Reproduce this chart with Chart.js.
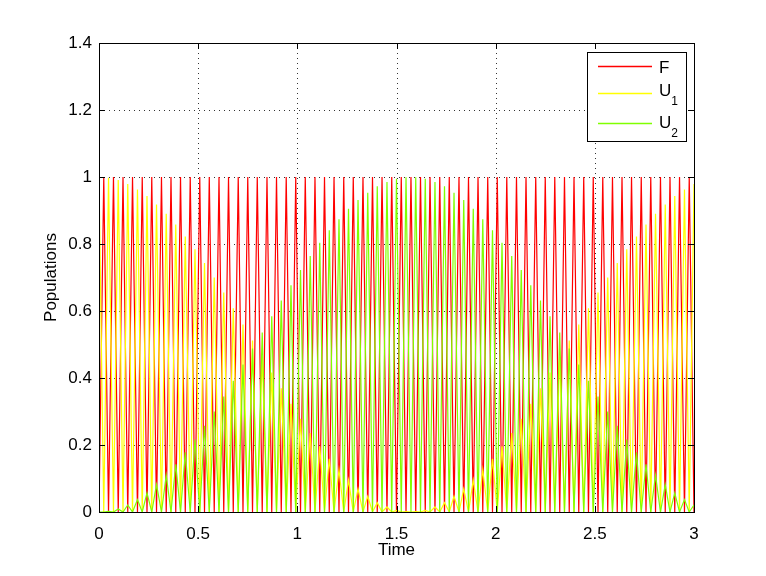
<!DOCTYPE html>
<html>
<head>
<meta charset="utf-8">
<title>Populations</title>
<script src="https://cdn.jsdelivr.net/npm/chart.js@4.4.0/dist/chart.umd.min.js"></script>
<style>
  html, body { margin: 0; padding: 0; background: #fff; }
  #wrap { width: 766px; height: 576px; }
</style>
</head>
<body>
<div id="wrap"><canvas id="popChart" width="766" height="576"></canvas></div>
<script>
// sample times (half periods of the fast oscillation)
const timeValues = [
  0, 0.024, 0.048, 0.073, 0.097, 0.121, 0.145, 0.169, 0.194, 0.218,
  0.242, 0.266, 0.290, 0.315, 0.339, 0.363, 0.387, 0.411, 0.435, 0.460,
  0.484, 0.508, 0.532, 0.556, 0.581, 0.605, 0.629, 0.653, 0.677, 0.702,
  0.726, 0.750, 0.774, 0.798, 0.823, 0.847, 0.871, 0.895, 0.919, 0.944,
  0.968, 0.992, 1.016, 1.040, 1.065, 1.089, 1.113, 1.137, 1.161, 1.185,
  1.210, 1.234, 1.258, 1.282, 1.306, 1.331, 1.355, 1.379, 1.403, 1.427,
  1.452, 1.476, 1.500, 1.524, 1.548, 1.573, 1.597, 1.621, 1.645, 1.669,
  1.694, 1.718, 1.742, 1.766, 1.790, 1.815, 1.839, 1.863, 1.887, 1.911,
  1.935, 1.960, 1.984, 2.008, 2.032, 2.056, 2.081, 2.105, 2.129, 2.153,
  2.177, 2.202, 2.226, 2.250, 2.274, 2.298, 2.323, 2.347, 2.371, 2.395,
  2.419, 2.444, 2.468, 2.492, 2.516, 2.540, 2.565, 2.589, 2.613, 2.637,
  2.661, 2.685, 2.710, 2.734, 2.758, 2.782, 2.806, 2.831, 2.855, 2.879,
  2.903, 2.927, 2.952, 2.976, 3.000
];

const fValues = [
  0, 1, 0, 1, 0, 1, 0, 1, 0, 1,
  0, 1, 0, 1, 0, 1, 0, 1, 0, 1,
  0, 1, 0, 1, 0, 1, 0, 1, 0, 1,
  0, 1, 0, 1, 0, 1, 0, 1, 0, 1,
  0, 1, 0, 1, 0, 1, 0, 1, 0, 1,
  0, 1, 0, 1, 0, 1, 0, 1, 0, 1,
  0, 1, 0, 1, 0, 1, 0, 1, 0, 1,
  0, 1, 0, 1, 0, 1, 0, 1, 0, 1,
  0, 1, 0, 1, 0, 1, 0, 1, 0, 1,
  0, 1, 0, 1, 0, 1, 0, 1, 0, 1,
  0, 1, 0, 1, 0, 1, 0, 1, 0, 1,
  0, 1, 0, 1, 0, 1, 0, 1, 0, 1,
  0, 1, 0, 1, 0
];

const u1Values = [
  1.000, 0, 0.998, 0, 0.991, 0, 0.979, 0, 0.963, 0,
  0.943, 0, 0.918, 0, 0.890, 0, 0.858, 0, 0.822, 0,
  0.784, 0, 0.743, 0, 0.700, 0, 0.655, 0, 0.608, 0,
  0.560, 0, 0.512, 0, 0.464, 0, 0.416, 0, 0.369, 0,
  0.323, 0, 0.278, 0, 0.236, 0, 0.196, 0, 0.159, 0,
  0.126, 0, 0.095, 0, 0.069, 0, 0.047, 0, 0.028, 0,
  0.015, 0, 0.005, 0, 0.001, 0, 0.001, 0, 0.005, 0,
  0.015, 0, 0.028, 0, 0.047, 0, 0.069, 0, 0.095, 0,
  0.126, 0, 0.159, 0, 0.196, 0, 0.236, 0, 0.278, 0,
  0.323, 0, 0.369, 0, 0.416, 0, 0.464, 0, 0.512, 0,
  0.560, 0, 0.608, 0, 0.655, 0, 0.700, 0, 0.743, 0,
  0.784, 0, 0.822, 0, 0.858, 0, 0.890, 0, 0.918, 0,
  0.943, 0, 0.963, 0, 0.979
];

const u2Values = [
  0.000, 0, 0.002, 0, 0.009, 0, 0.021, 0, 0.037, 0,
  0.057, 0, 0.082, 0, 0.110, 0, 0.142, 0, 0.178, 0,
  0.216, 0, 0.257, 0, 0.300, 0, 0.345, 0, 0.392, 0,
  0.440, 0, 0.488, 0, 0.536, 0, 0.584, 0, 0.631, 0,
  0.677, 0, 0.722, 0, 0.764, 0, 0.804, 0, 0.841, 0,
  0.874, 0, 0.905, 0, 0.931, 0, 0.953, 0, 0.972, 0,
  0.985, 0, 0.995, 0, 0.999, 0, 0.999, 0, 0.995, 0,
  0.985, 0, 0.972, 0, 0.953, 0, 0.931, 0, 0.905, 0,
  0.874, 0, 0.841, 0, 0.804, 0, 0.764, 0, 0.722, 0,
  0.677, 0, 0.631, 0, 0.584, 0, 0.536, 0, 0.488, 0,
  0.440, 0, 0.392, 0, 0.345, 0, 0.300, 0, 0.257, 0,
  0.216, 0, 0.178, 0, 0.142, 0, 0.110, 0, 0.082, 0,
  0.057, 0, 0.037, 0, 0.021
];

const xTickValues = [0, 0.5, 1, 1.5, 2, 2.5, 3];
const xTickLabels = ['0', '0.5', '1', '1.5', '2', '2.5', '3'];
const yTickValues = [0, 0.2, 0.4, 0.6, 0.8, 1, 1.2, 1.4];
const yTickLabels = ['0', '0.2', '0.4', '0.6', '0.8', '1', '1.2', '1.4'];

const FONT = "'Liberation Sans', Arial, Helvetica, sans-serif";
const COLORS = { F: '#ff0000', U1: '#ffff00', U2: '#80ff00' };

const toPoints = vals => timeValues.map((t, i) => ({ x: t, y: vals[i] }));

// dotted grid under the data
const gridPlugin = {
  id: 'matlabGrid',
  beforeDatasetsDraw(chart) {
    const { ctx, chartArea: a, scales } = chart;
    ctx.save();
    ctx.strokeStyle = 'rgba(0,0,0,0.8)';
    ctx.lineWidth = 1;
    ctx.setLineDash([1, 4]);
    xTickValues.forEach(v => {
      const px = Math.round(scales.x.getPixelForValue(v)) + 0.5;
      ctx.beginPath(); ctx.moveTo(px, a.top); ctx.lineTo(px, a.bottom); ctx.stroke();
    });
    yTickValues.forEach(v => {
      const py = Math.round(scales.y.getPixelForValue(v)) + 0.5;
      ctx.beginPath(); ctx.moveTo(a.left, py); ctx.lineTo(a.right, py); ctx.stroke();
    });
    ctx.restore();
  }
};

// box, inner ticks, axis titles and legend
const framePlugin = {
  id: 'matlabFrame',
  afterDraw(chart) {
    const { ctx, chartArea: a, scales } = chart;
    ctx.save();
    ctx.strokeStyle = '#000';
    ctx.lineWidth = 1;
    ctx.strokeRect(a.left + 0.5, a.top + 0.5, a.right - a.left, a.bottom - a.top);

    const tl = 6;
    ctx.beginPath();
    xTickValues.forEach(v => {
      const px = Math.round(scales.x.getPixelForValue(v)) + 0.5;
      ctx.moveTo(px, a.bottom); ctx.lineTo(px, a.bottom - tl);
      ctx.moveTo(px, a.top); ctx.lineTo(px, a.top + tl);
    });
    yTickValues.forEach(v => {
      const py = Math.round(scales.y.getPixelForValue(v)) + 0.5;
      ctx.moveTo(a.left, py); ctx.lineTo(a.left + tl, py);
      ctx.moveTo(a.right, py); ctx.lineTo(a.right - tl, py);
    });
    ctx.stroke();

    // axis titles
    ctx.fillStyle = '#000';
    ctx.font = '17px ' + FONT;
    ctx.textAlign = 'center';
    ctx.textBaseline = 'middle';
    ctx.fillText('Time', (a.left + a.right) / 2, 550);
    ctx.save();
    ctx.translate(51, (a.top + a.bottom) / 2);
    ctx.rotate(-Math.PI / 2);
    ctx.fillText('Populations', 0, 0);
    ctx.restore();

    // legend
    const box = { x: 587.5, y: 52.5, w: 99, h: 89 };
    ctx.fillStyle = '#fff';
    ctx.fillRect(box.x, box.y, box.w, box.h);
    ctx.strokeStyle = '#000';
    ctx.strokeRect(box.x, box.y, box.w, box.h);
    const entries = [
      { main: 'F', sub: '', color: COLORS.F, lineY: 66.5, base: 72.5 },
      { main: 'U', sub: '1', color: COLORS.U1, lineY: 93.5, base: 96 },
      { main: 'U', sub: '2', color: COLORS.U2, lineY: 123.5, base: 127.5 }
    ];
    entries.forEach(e => {
      ctx.strokeStyle = e.color;
      ctx.lineWidth = 1.3;
      ctx.beginPath(); ctx.moveTo(598, e.lineY); ctx.lineTo(652, e.lineY); ctx.stroke();
      ctx.fillStyle = '#000';
      ctx.textAlign = 'left';
      ctx.textBaseline = 'alphabetic';
      ctx.font = '17px ' + FONT;
      ctx.fillText(e.main, 659, e.base);
      if (e.sub) {
        const w = ctx.measureText(e.main).width;
        ctx.font = '12px ' + FONT;
        ctx.fillText(e.sub, 659 + w, e.base + 9);
      }
    });
    ctx.restore();
  }
};

new Chart(document.getElementById('popChart'), {
  type: 'line',
  data: {
    datasets: [
      { label: 'F', data: toPoints(fValues), borderColor: COLORS.F, order: 3 },
      { label: 'U1', data: toPoints(u1Values), borderColor: COLORS.U1, order: 2 },
      { label: 'U2', data: toPoints(u2Values), borderColor: COLORS.U2, order: 1 }
    ]
  },
  options: {
    responsive: false,
    animation: false,
    events: [],
    elements: {
      line: { borderWidth: 1.2, tension: 0, fill: false },
      point: { radius: 0 }
    },
    layout: { padding: { top: 43, right: 72, left: 0, bottom: 0 } },
    plugins: { legend: { display: false }, tooltip: { enabled: false } },
    scales: {
      x: {
        type: 'linear', min: 0, max: 3,
        grid: { display: false, drawTicks: false },
        border: { display: false },
        afterBuildTicks: s => { s.ticks = xTickValues.map(v => ({ value: v })); },
        afterFit: s => { s.height = 64; },
        ticks: {
          color: '#000', padding: 12, maxRotation: 0, autoSkip: false,
          font: { family: FONT, size: 17 },
          callback: (v, i) => xTickLabels[i]
        }
      },
      y: {
        type: 'linear', min: 0, max: 1.4,
        grid: { display: false, drawTicks: false },
        border: { display: false },
        afterBuildTicks: s => { s.ticks = yTickValues.map(v => ({ value: v })); },
        afterFit: s => { s.width = 99; },
        ticks: {
          color: '#000', padding: 7, autoSkip: false,
          font: { family: FONT, size: 17 },
          callback: (v, i) => yTickLabels[i]
        }
      }
    }
  },
  plugins: [gridPlugin, framePlugin]
});
</script>
</body>
</html>
